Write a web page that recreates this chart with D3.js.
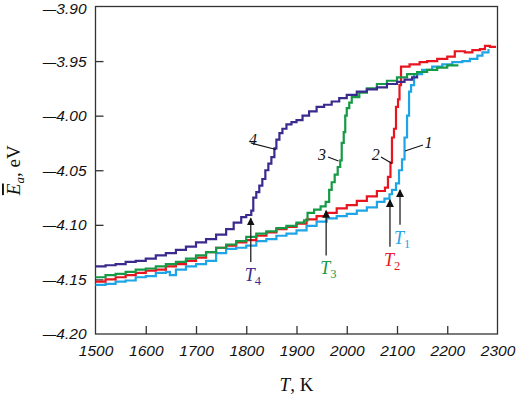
<!DOCTYPE html>
<html><head><meta charset="utf-8">
<script src="https://cdn.jsdelivr.net/npm/d3@7"></script>
<style>
html,body{margin:0;padding:0;background:#fff;}
svg{display:block;}
</style></head>
<body>
<svg id="chart" width="518" height="395"></svg>
<script>
// ---- data ----
const xTicks = [1500,1600,1700,1800,1900,2000,2100,2200,2300];
const yTicks = [-4.20,-4.15,-4.10,-4.05,-4.00,-3.95,-3.90];

const curve1T = [1500,1520,1540,1560,1580,1600,1620,1640,1648,1660,1680,1700,1720,1740,1760,1780,1800,1820,1840,1860,1880,1900,1920,1940,1960,1980,2000,2020,2040,2060,2075,2085,2090,2098,2104,2110,2115,2120,2124,2128,2134,2150,2170,2190,2210,2230,2245,2260,2270,2282];
const curve1E = [-4.155,-4.154,-4.152,-4.151,-4.148,-4.147,-4.144,-4.143,-4.146,-4.141,-4.138,-4.136,-4.133,-4.126,-4.122,-4.121,-4.119,-4.115,-4.113,-4.110,-4.108,-4.105,-4.101,-4.097,-4.094,-4.092,-4.090,-4.087,-4.084,-4.079,-4.076,-4.072,-4.068,-4.062,-4.050,-4.040,-4.020,-4.000,-3.978,-3.972,-3.962,-3.958,-3.955,-3.953,-3.951,-3.950,-3.948,-3.945,-3.942,-3.939];

const curve2T = [1500,1520,1540,1560,1580,1600,1620,1640,1660,1680,1700,1720,1740,1760,1780,1800,1820,1840,1860,1880,1900,1920,1940,1960,1980,2000,2020,2040,2060,2076,2082,2087,2090,2094,2098,2102,2105,2108,2125,2145,2160,2180,2200,2215,2235,2250,2265,2275,2285,2295];
const curve2E = [-4.152,-4.150,-4.148,-4.146,-4.144,-4.142,-4.141,-4.138,-4.136,-4.133,-4.130,-4.125,-4.121,-4.119,-4.116,-4.114,-4.110,-4.107,-4.104,-4.102,-4.099,-4.095,-4.092,-4.089,-4.085,-4.082,-4.078,-4.074,-4.069,-4.066,-4.056,-4.043,-4.020,-4.012,-3.992,-3.985,-3.972,-3.955,-3.953,-3.951,-3.950,-3.948,-3.946,-3.941,-3.942,-3.940,-3.939,-3.936,-3.937,-3.938];

const curve3T = [1500,1520,1540,1560,1580,1600,1620,1640,1660,1680,1700,1720,1740,1760,1780,1800,1820,1840,1860,1880,1900,1915,1922,1935,1948,1958,1965,1970,1976,1982,1987,1990,1994,1997,2000,2005,2010,2025,2040,2060,2080,2100,2120,2140,2160,2180,2200,2220];
const curve3E = [-4.148,-4.146,-4.145,-4.143,-4.141,-4.140,-4.138,-4.136,-4.134,-4.131,-4.128,-4.125,-4.121,-4.118,-4.115,-4.111,-4.108,-4.106,-4.103,-4.101,-4.098,-4.096,-4.089,-4.086,-4.083,-4.079,-4.068,-4.061,-4.054,-4.047,-4.041,-4.025,-4.015,-4.000,-3.993,-3.988,-3.983,-3.979,-3.975,-3.971,-3.968,-3.965,-3.962,-3.960,-3.958,-3.956,-3.954,-3.953];

const curve4T = [1500,1520,1540,1560,1580,1600,1620,1640,1660,1680,1700,1720,1740,1760,1775,1790,1800,1810,1814,1820,1826,1832,1838,1844,1850,1856,1860,1866,1872,1880,1890,1900,1912,1925,1940,1955,1970,1985,2000,2020,2040,2060,2080,2100,2115,2130,2140];
const curve4E = [-4.138,-4.137,-4.136,-4.134,-4.133,-4.131,-4.128,-4.126,-4.123,-4.120,-4.116,-4.113,-4.109,-4.104,-4.098,-4.093,-4.091,-4.087,-4.075,-4.070,-4.064,-4.058,-4.050,-4.044,-4.038,-4.030,-4.022,-4.016,-4.012,-4.008,-4.006,-4.004,-4.000,-3.996,-3.992,-3.990,-3.987,-3.984,-3.981,-3.978,-3.976,-3.974,-3.971,-3.969,-3.967,-3.965,-3.963];

const seriesNames = ["1","2","3","4"];
const seriesColors = ["#1ea5e6","#e8141f","#169a45","#3a2a8e"];

// transition temperatures marked with arrows
const arrowNames = ["1","2","3","4"];
const arrowT = [2106,2086,1959,1809];
const arrowTipE = [-4.068,-4.077,-4.087,-4.094];
const arrowTailE = [-4.100,-4.120,-4.128,-4.134];

// curve-number labels with leader lines
const numLabelT = [2154.7,2049.7,1942.8,1805.5];
const numLabelE = [-4.0297,-4.0407,-4.0407,-4.0269];
const leaderT1 = [2151.7,2068.2,1962.7,1809.4];
const leaderE1 = [-4.0269,-4.0379,-4.0379,-4.0251];
const leaderT2 = [2115.9,2090.1,1983.6,1859.2];
const leaderE2 = [-4.0324,-4.0439,-4.0416,-4.0310];

// ---- drawing ----
const svg = d3.select("#chart");
const L = 95.5, R = 497.5, T = 6.5, B = 334;
const x = d3.scaleLinear().domain([1500,2300]).range([L,R]);
const y = d3.scaleLinear().domain([-4.20,-3.90]).range([B,T]);

const tickFont = "'Liberation Sans', Arial, sans-serif";
const serif = "'Liberation Serif', 'Times New Roman', serif";

const yAxis = svg.append("g").attr("transform",`translate(${L},0)`)
  .call(d3.axisLeft(y).tickValues(yTicks).tickSize(-8).tickPadding(9)
        .tickFormat(d => Math.abs(d).toFixed(2)));
const xAxis = svg.append("g").attr("transform",`translate(0,${B})`)
  .call(d3.axisBottom(x).tickValues(xTicks).tickSize(-8).tickPadding(11)
        .tickFormat(d3.format("d")));
[yAxis,xAxis].forEach(a=>{
  a.select(".domain").remove();
  a.selectAll("line").attr("stroke","#333").attr("stroke-width",1.3);
  a.selectAll("text").attr("fill","#111").style("font-family",tickFont)
    .style("font-style","italic").style("font-size","15.5px");
});
// long dash before the negative y labels
yAxis.selectAll(".tick text").each(function(){
  const t = d3.select(this), s = t.text();
  t.text("");
  t.append("tspan").text("\u2014").style("font-size","13.5px");
  t.append("tspan").text(s);
});
yAxis.selectAll(".tick").filter(d=>d===-3.90).select("text").attr("dy","0.42em");
yAxis.selectAll(".tick").filter(d=>d===-3.90||d===-4.20).select("line").remove();
xAxis.selectAll(".tick").filter(d=>d===1500||d===2300).select("line").remove();

// frame
svg.append("rect").attr("x",L).attr("y",T).attr("width",R-L).attr("height",B-T)
  .attr("fill","none").attr("stroke","#333").attr("stroke-width",1.3);

// curves
const series = [
  curve1T.map((t,i)=>[t,curve1E[i]]),
  curve2T.map((t,i)=>[t,curve2E[i]]),
  curve3T.map((t,i)=>[t,curve3E[i]]),
  curve4T.map((t,i)=>[t,curve4E[i]])
];
const line = d3.line().x(d=>x(d[0])).y(d=>y(d[1])).curve(d3.curveStepAfter);
svg.append("g").selectAll("path").data(series).join("path")
  .attr("d",line).attr("fill","none")
  .attr("stroke",(d,i)=>seriesColors[i]).attr("stroke-width",2.2)
  .attr("stroke-linejoin","miter");

// arrows
const defs = svg.append("defs");
defs.append("marker").attr("id","ah").attr("viewBox","0 0 10 10")
  .attr("refX",9).attr("refY",5).attr("markerWidth",8).attr("markerHeight",10)
  .attr("markerUnits","userSpaceOnUse").attr("orient","auto")
  .append("path").attr("d","M0,0 L10,5 L0,10 Z").attr("fill","#111");
const ag = svg.append("g");
arrowT.forEach((t,i)=>{
  ag.append("line").attr("x1",x(t)).attr("x2",x(t))
    .attr("y1",y(arrowTailE[i])).attr("y2",y(arrowTipE[i]))
    .attr("stroke","#222").attr("stroke-width",1.3).attr("marker-end","url(#ah)");
  const txt = ag.append("text").attr("x",x(t)-6).attr("y",y(arrowTailE[i])+19)
    .attr("fill",seriesColors[i]).style("font-family",serif);
  txt.append("tspan").text("T").style("font-style","italic").style("font-size","18px");
  txt.append("tspan").text(arrowNames[i]).attr("dy",4).style("font-size","12.5px");
});

// curve number labels
numLabelT.forEach((t,i)=>{
  svg.append("text").attr("x",x(t)).attr("y",y(numLabelE[i]))
    .text(seriesNames[i]).attr("fill","#111")
    .style("font-family",serif).style("font-style","italic").style("font-size","16px");
  svg.append("line").attr("x1",x(leaderT1[i])).attr("y1",y(leaderE1[i]))
    .attr("x2",x(leaderT2[i])).attr("y2",y(leaderE2[i]))
    .attr("stroke","#111").attr("stroke-width",1.1);
});

// axis titles
const xt = svg.append("text").attr("x",(L+R)/2).attr("y",391).attr("text-anchor","middle")
  .attr("fill","#111").style("font-family",serif).style("font-size","19px");
xt.append("tspan").text("T").style("font-style","italic");
xt.append("tspan").text(", K");

const yt = svg.append("text").attr("transform",`translate(20,${(T+B)/2}) rotate(-90)`)
  .attr("text-anchor","middle").attr("fill","#111")
  .style("font-family",serif).style("font-size","19px");
yt.append("tspan").text("E").style("font-style","italic").style("text-decoration","overline");
yt.append("tspan").text("a").style("font-style","italic").style("font-size","13px").attr("dy",4);
yt.append("tspan").text(", eV").attr("dy",-4);
</script>
</body></html>
